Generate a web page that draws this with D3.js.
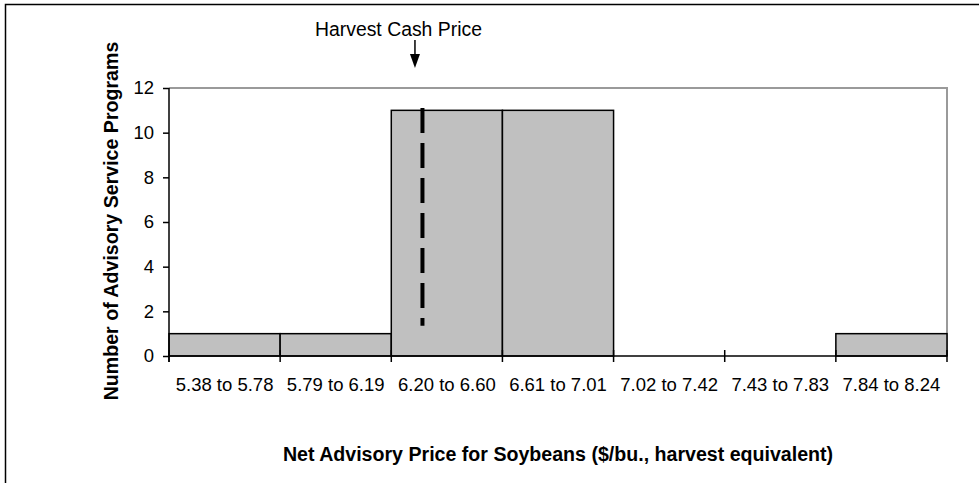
<!DOCTYPE html>
<html>
<head>
<meta charset="utf-8">
<script src="https://cdn.jsdelivr.net/npm/d3@7/dist/d3.min.js"></script>
<style>
  body { margin: 0; background: #fff; }
  svg { display: block; }
  text { font-family: "Liberation Sans", Arial, sans-serif; fill: #000; }
</style>
</head>
<body>
<svg id="chart"></svg>
<script>
// price bins and number of programs in each
const categories = ["5.38 to 5.78", "5.79 to 6.19", "6.20 to 6.60", "6.61 to 7.01", "7.02 to 7.42", "7.43 to 7.83", "7.84 to 8.24"];
const counts = [1, 1, 11, 11, 0, 0, 1];
const yTicks = [0, 2, 4, 6, 8, 10, 12];
const priceRange = [5.375, 8.245];
const harvestPrice = 6.31;
const harvestLineSpan = [1.35, 11.1];

const width = 979;
const height = 483;
const plot = { left: 169, top: 88, right: 947, bottom: 356 };

const svg = d3.select("#chart").attr("width", width).attr("height", height);

// outer frame (top and left edges show)
svg.append("path")
    .attr("d", "M5.5,483 V4.5 H979")
    .attr("fill", "none")
    .attr("stroke", "#000")
    .attr("stroke-width", 1.5);

const x = d3.scaleBand().domain(categories).range([plot.left, plot.right]).padding(0);
const price = d3.scaleLinear().domain(priceRange).range([plot.left, plot.right]);
const y = d3.scaleLinear().domain([0, 12]).range([plot.bottom, plot.top]);

// plot area border top/right in gray
svg.append("path")
    .attr("d", "M" + plot.left + "," + plot.top + " H" + plot.right + " V" + plot.bottom)
    .attr("fill", "none")
    .attr("stroke", "#9a9a9a")
    .attr("stroke-width", 2);

const bars = categories.map(function (c, i) { return { cat: c, n: counts[i] }; })
    .filter(function (d) { return d.n > 0; });

svg.append("g").selectAll("rect")
    .data(bars)
    .enter()
    .append("rect")
    .attr("x", function (d) { return x(d.cat); })
    .attr("y", function (d) { return y(d.n); })
    .attr("width", x.bandwidth())
    .attr("height", function (d) { return y(0) - y(d.n); })
    .attr("fill", "#c0c0c0")
    .attr("stroke", "#000")
    .attr("stroke-width", 1.5);

// y axis
const yAxis = svg.append("g")
    .attr("transform", "translate(" + plot.left + ",0)")
    .call(d3.axisLeft(y).tickValues(yTicks).tickSize(6).tickPadding(9).tickFormat(d3.format("d")));
yAxis.select(".domain").attr("stroke", "#000").attr("stroke-width", 1.5).attr("d", "M0," + plot.top + "V" + (plot.bottom + 6));
yAxis.selectAll(".tick line").attr("stroke", "#000").attr("stroke-width", 1.5);
yAxis.selectAll(".tick text").style("font-size", "18.5px").attr("fill", "#000");

// x axis
const xEdges = d3.range(categories.length + 1).map(function (i) { return plot.left + i * x.bandwidth(); });
svg.append("line")
    .attr("x1", plot.left).attr("x2", plot.right)
    .attr("y1", plot.bottom).attr("y2", plot.bottom)
    .attr("stroke", "#000").attr("stroke-width", 1.5);
svg.append("g").selectAll("line")
    .data(xEdges)
    .enter()
    .append("line")
    .attr("x1", function (d) { return d; }).attr("x2", function (d) { return d; })
    .attr("y1", plot.bottom - 6).attr("y2", plot.bottom + 6)
    .attr("stroke", "#000").attr("stroke-width", 1.5);

svg.append("g").selectAll("text")
    .data(categories)
    .enter()
    .append("text")
    .attr("x", function (d) { return x(d) + x.bandwidth() / 2; })
    .attr("y", 391)
    .attr("text-anchor", "middle")
    .style("font-size", "18.5px")
    .text(function (d) { return d; });

// harvest cash price marker
svg.append("line")
    .attr("x1", price(harvestPrice)).attr("x2", price(harvestPrice))
    .attr("y1", y(harvestLineSpan[1])).attr("y2", y(harvestLineSpan[0]))
    .attr("stroke", "#000")
    .attr("stroke-width", 4)
    .attr("stroke-dasharray", "25,10");

const ax = price(harvestPrice) - 7.5;
svg.append("line")
    .attr("x1", ax).attr("x2", ax)
    .attr("y1", 40).attr("y2", 56)
    .attr("stroke", "#000").attr("stroke-width", 1.5);
svg.append("path")
    .attr("d", "M" + (ax - 5) + ",54 L" + (ax + 5) + ",54 L" + ax + ",68 Z")
    .attr("fill", "#000");

svg.append("text")
    .attr("x", ax - 16.5)
    .attr("y", 36)
    .attr("text-anchor", "middle")
    .style("font-size", "19.4px")
    .text("Harvest Cash Price");

// axis titles
svg.append("text")
    .attr("transform", "translate(118," + ((plot.top + plot.bottom) / 2 - 1) + ") rotate(-90)")
    .attr("text-anchor", "middle")
    .style("font-size", "19.6px")
    .style("font-weight", "bold")
    .text("Number of Advisory Service Programs");

svg.append("text")
    .attr("x", (plot.left + plot.right) / 2)
    .attr("y", 461)
    .attr("text-anchor", "middle")
    .style("font-size", "19.6px")
    .style("font-weight", "bold")
    .text("Net Advisory Price for Soybeans ($/bu., harvest equivalent)");
</script>
</body>
</html>
